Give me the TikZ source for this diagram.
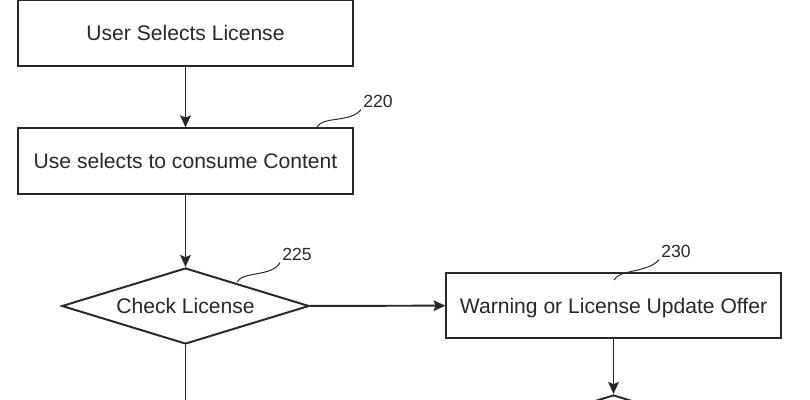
\documentclass[tikz,border=0pt]{standalone}
\usepackage{fontspec}
\setmainfont{Liberation Sans}
\usetikzlibrary{shapes.geometric}
\usetikzlibrary{arrows.meta}

\definecolor{inkgray}{RGB}{40,40,40}

\tikzset{
    procbox/.style = {draw, rectangle, minimum width=8.35cm, minimum height=1.63cm,
                      inner sep=0pt, text height=10.7pt, text depth=0pt,
                      font=\fontsize{15}{18}\selectfont},
    decbox/.style  = {draw, diamond, aspect=3.25, minimum width=6.18cm, minimum height=1.9cm,
                      inner sep=0pt, text height=10.7pt, text depth=0pt,
                      font=\fontsize{15}{18}\selectfont},
    reflbl/.style  = {inner sep=1pt, font=\fontsize{12.5}{14}\selectfont},
    flow/.style    = {-{Stealth[length=8.5pt, width=7.5pt, inset=1.5pt]}},
    leader/.style  = {line width=0.7pt},
}

\begin{document}
\begin{tikzpicture}[x=0.025cm, y=-0.025cm, line width=1.4pt, color=inkgray, text=inkgray]
            % frame of the cut-out
            \clip (0, 0) rectangle (810, 400);

            % draw steps of the flow
            \node[procbox] (select)  at (185.5,  33) {User Selects License};
            \node[procbox] (consume) at (185.5, 161) {Use selects to consume Content};
            \node[decbox]  (check)   at (185.5, 306) {Check License};
            \node[procbox] (warn)    at (613.5, 305.5) {Warning or License Update Offer};
            \node[decbox]  (next)    at (613.5, 433) {};
            \coordinate (below) at (185.5, 430);

            % draw arrows between steps
            \draw[flow] (select)  -- (consume);
            \draw[flow] (consume) -- (check);
            \draw[flow] (check)   -- (warn);
            \draw[flow] (warn)    -- (next);
            \draw[flow] (check)   -- (below);

            % draw reference numerals with leaders
            \node[reflbl] (lbl220) at (378, 101) {220};
            \node[reflbl] (lbl225) at (297, 254) {225};
            \node[reflbl] (lbl230) at (676, 251) {230};

            \coordinate (tip220) at (317, 127);
            \coordinate (tip225) at (237, 282);
            \coordinate (tip230) at (614, 280);

            \draw[leader] (tip220) .. controls (323, 116) and (350, 123) .. (lbl220.south west);
            \draw[leader] (tip225) .. controls (243, 271) and (272, 277) .. (lbl225.south west);
            \draw[leader] (tip230) .. controls (620, 269) and (648, 273) .. (lbl230.south west);
        \end{tikzpicture}
\end{document}
